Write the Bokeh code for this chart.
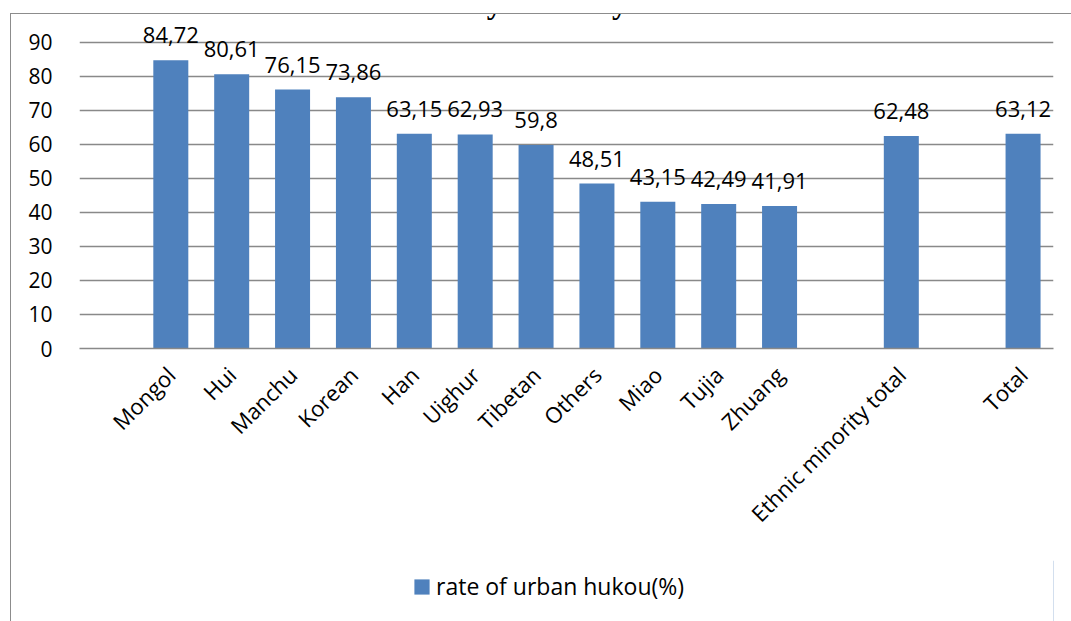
import math
from bokeh.plotting import figure
from bokeh.layouts import column
from bokeh.models import (FactorRange, Range1d, ColumnDataSource, FixedTicker,
                          Label, Legend, LegendItem, InlineStyleSheet)
from bokeh.core.properties import value
from bokeh.embed import file_html
from bokeh.resources import INLINE

# ---- data ----
groups = ["Mongol", "Hui", "Manchu", "Korean", "Han", "Uighur", "Tibetan",
          "Others", "Miao", "Tujia", "Zhuang"]
group_rates = [84.72, 80.61, 76.15, 73.86, 63.15, 62.93, 59.8, 48.51, 43.15,
               42.49, 41.91]
summary_cats = ["Ethnic minority total", "Total"]
summary_rates = [62.48, 63.12]
y_ticks = [0, 10, 20, 30, 40, 50, 60, 70, 80, 90]
series_name = "rate of urban hukou(%)"
title_text = "by ethnicity"

# category axis with the empty slots of the original chart
factors = [" "] + groups + ["  ", summary_cats[0], "   ", summary_cats[1]]
cats = groups + summary_cats
rates = group_rates + summary_rates
labels = [f"{v:g}".replace(".", ",") for v in rates]
src = ColumnDataSource(dict(x=cats, top=rates, label=labels))

FONT = "Open Sans"
BAR = "#4F81BD"
GRID = "#898989"

# ---------------- main chart ----------------
p = figure(x_range=FactorRange(*factors, range_padding=0),
           y_range=Range1d(0, 98.5),
           width=1071, height=560,
           output_backend="svg", toolbar_location=None,
           min_border_left=79, min_border_right=18,
           min_border_top=13, min_border_bottom=212)
p.outline_line_color = None
p.background_fill_color = "white"
p.border_fill_color = "white"

# grid
p.xgrid.grid_line_color = None
p.ygrid.grid_line_color = GRID
p.ygrid.grid_line_width = 1.3

# y axis
p.yaxis.ticker = FixedTicker(ticks=y_ticks)
p.yaxis.axis_line_color = None
p.yaxis.major_tick_line_color = None
p.yaxis.minor_tick_line_color = None
p.yaxis.major_tick_out = 0
p.yaxis.major_tick_in = 0
p.yaxis.major_label_standoff = 27
p.yaxis.major_label_text_font = FONT
p.yaxis.major_label_text_font_size = "21px"
p.yaxis.major_label_text_color = "black"

# x axis
p.xaxis.axis_line_color = GRID
p.xaxis.axis_line_width = 1.5
p.xaxis.major_tick_line_color = None
p.xaxis.major_tick_out = 0
p.xaxis.major_tick_in = 0
p.xaxis.major_label_orientation = math.pi / 4
p.xaxis.major_label_standoff = 22
p.xaxis.major_label_text_font = FONT
p.xaxis.major_label_text_font_size = "22px"
p.xaxis.major_label_text_color = "black"

bars = p.vbar(x="x", top="top", width=0.575, source=src,
              fill_color=BAR, line_color=None)

p.text(x="x", y="top", text="label", source=src,
       text_align="center", text_baseline="alphabetic", y_offset=-25,
       text_font=value(FONT), text_font_size="22px", text_color="black")

# title (cropped at the top in the original)
p.add_layout(Label(x=469, y=346, x_units="screen", y_units="screen",
                   text=title_text, text_align="center",
                   text_baseline="alphabetic",
                   text_font="Liberation Serif", text_font_style="bold",
                   text_font_size="31.5px", text_color="black"))

# ---------------- legend strip ----------------
lg = figure(width=1071, height=61, x_range=(0, 1), y_range=(0, 1),
            x_axis_type=None, y_axis_type=None,
            output_backend="svg", toolbar_location=None,
            min_border=0)
lg.outline_line_color = None
lg.xgrid.visible = False
lg.ygrid.visible = False
# swatch renderer: its single bar lies outside the strip's range, so only
# the legend square is seen
swatch = lg.vbar(x=[5], top=[1], width=0.5, fill_color=BAR, line_color=None)
legend = Legend(items=[LegendItem(label=series_name, renderers=[swatch])],
                location=(333, 19), orientation="horizontal",
                glyph_width=19, glyph_height=19, label_standoff=5,
                label_text_font=FONT, label_text_font_size="23px",
                label_text_color="black",
                padding=0, margin=0, border_line_color=None,
                background_fill_alpha=0)
lg.add_layout(legend)

# outer chart frame (cropped: only its top and left edges are in view)
frame_css = InlineStyleSheet(css="""
:host::after {
  content: "";
  position: absolute;
  left: 10px; top: 13px; right: 0; bottom: 0;
  border-left: 1.5px solid #8c8c8c;
  border-top: 1.5px solid #8c8c8c;
  pointer-events: none;
  z-index: 10;
}
""")

layout = column(p, lg, spacing=0)
layout.stylesheets = [frame_css]

open("out.html", "w").write(file_html(layout, INLINE))
